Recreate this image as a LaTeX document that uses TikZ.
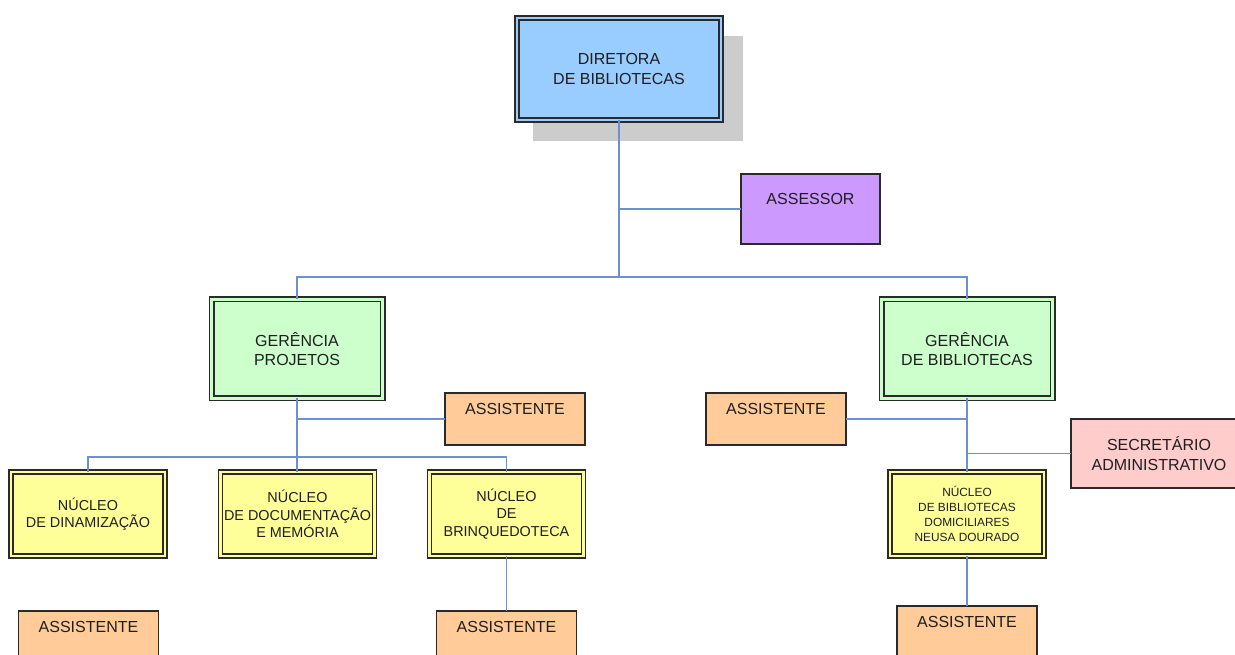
\documentclass[tikz,border=0pt]{standalone}
\usepackage{fontspec}
\setmainfont{Liberation Sans}
\definecolor{dirc}{HTML}{99CCFF}
\definecolor{assc}{HTML}{CC99FF}
\definecolor{gerc}{HTML}{CCFFCC}
\definecolor{astc}{HTML}{FFCC99}
\definecolor{nucc}{HTML}{FFFF99}
\definecolor{secc}{HTML}{FFCCCC}
\definecolor{shadowc}{HTML}{CCCCCC}
\definecolor{bordc}{HTML}{2A2A2A}
\definecolor{txtc}{HTML}{1E1E1E}
\definecolor{connc}{RGB}{108,144,210}
\tikzset{
  base/.style={rectangle, inner sep=0pt, outer sep=0pt, draw=bordc, text=txtc, align=center},
  single/.style={base, line width=1pt},
  dbl/.style={base, line width=1pt, double distance=2pt},
  dirbox/.style={dbl, fill=dirc, double=dirc, minimum width=153pt, minimum height=76.5pt, font=\fontsize{12}{15}\selectfont},
  gerbox/.style={dbl, fill=gerc, double=gerc, double distance=2.5pt, minimum width=128.25pt, minimum height=74.25pt, font=\fontsize{12}{14}\selectfont},
  nucbox/.style={dbl, fill=nucc, double=nucc, minimum width=115.5pt, minimum height=63pt, font=\fontsize{10.8}{13}\selectfont},
  nucsmall/.style={nucbox, font=\fontsize{8.9}{11.25}\selectfont},
  asstbox/.style={single, fill=astc, minimum width=105pt, minimum height=39pt, font=\fontsize{12}{15}\selectfont},
  assrbox/.style={single, fill=assc, minimum width=104.25pt, minimum height=52.5pt, font=\fontsize{12}{15}\selectfont},
  secbox/.style={single, fill=secc, minimum width=132pt, minimum height=51.75pt, font=\fontsize{12}{15}\selectfont},
  conn/.style={draw=connc, line width=1pt}
}
\begin{document}
\begin{tikzpicture}[x=0.75pt,y=-0.75pt]
\useasboundingbox (0,0) rectangle (1235,655);
\clip (0,0) rectangle (1235,655);

% shadow of the director box
\fill[shadowc] (533,36) rectangle (743,141);

% nodes
\node[dirbox] (dir) at (619,69) {DIRETORA\\DE BIBLIOTECAS};
\node[assrbox] (assessor) at (810.5,209) {ASSESSOR\\~};

\node[gerbox] (gp) at (297,349) {GERÊNCIA\\PROJETOS};
\node[gerbox] (gb) at (967,349) {GERÊNCIA\\DE BIBLIOTECAS};

\node[asstbox] (asgp) at (515,419) {ASSISTENTE\\~};
\node[asstbox] (asgb) at (776,419) {ASSISTENTE\\~};
\node[secbox] (sec) at (1159,453.5) {SECRETÁRIO\\ADMINISTRATIVO};

\node[nucbox] (n1) at (88,514) {NÚCLEO\\DE DINAMIZAÇÃO};
\node[nucbox] (n2) at (297.5,514) {NÚCLEO\\DE DOCUMENTAÇÃO\\E MEMÓRIA};
\node[nucbox] (n3) at (506.5,514) {NÚCLEO\\DE\\BRINQUEDOTECA};
\node[nucsmall] (n4) at (967,514) {NÚCLEO\\DE BIBLIOTECAS\\DOMICILIARES\\NEUSA DOURADO};

\node[asstbox] (as1) at (88.5,637) {ASSISTENTE\\~};
\node[asstbox] (as2) at (506.5,637) {ASSISTENTE\\~};
\node[asstbox] (as3) at (967,632) {ASSISTENTE\\~};

% connectors
\coordinate (bus1) at (619,277);
\coordinate (bus2) at (297,457);
\draw[conn] (dir.south) -- (bus1);
\draw[conn] (dir.south |- assessor.west) -- (assessor.west);
\draw[conn] (gp.north) |- (bus1) -| (gb.north);

\draw[conn] (gp.south) -- (bus2);
\draw[conn] (gp.south |- asgp.west) -- (asgp.west);
\draw[conn] (n1.north) |- (bus2) -| (n3.north);
\draw[conn] (bus2) -- (bus2 |- n2.north);
\draw[conn] (n3.south) -- (as2.north);

\draw[conn] (gb.south) -- (n4.north);
\draw[conn] (gb.south |- asgb.east) -- (asgb.east);
\draw[conn] (gb.south |- sec.west) -- (sec.west);
\draw[conn] (n4.south) -- (as3.north);
\end{tikzpicture}
\end{document}
